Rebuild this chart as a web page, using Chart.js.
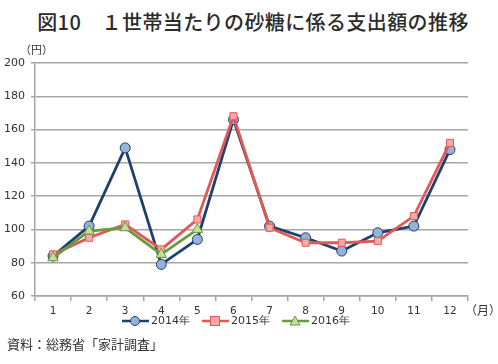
<!DOCTYPE html>
<html lang="ja">
<head>
  <meta charset="UTF-8" />
  <title>図10 1世帯当たりの砂糖に係る支出額の推移</title>
  <script src="https://cdn.jsdelivr.net/npm/chart.js"></script>
  <style>
    * { box-sizing: border-box; margin: 0; padding: 0; }
    body {
      width: 498px;
      height: 364px;
      background: #fff;
      position: relative;
      overflow: hidden;
      font-family: 'Noto Sans CJK JP', sans-serif;
      color: #333;
    }
    #title {
      position: absolute;
      top: 7px;
      left: 4px;
      width: 498px;
      text-align: center;
      font-size: 20px;
      font-weight: 500;
      letter-spacing: 0.4px;
      color: #2b2b2b;
    }
    #chartBox {
      position: absolute;
      left: 0;
      top: 0;
      width: 498px;
      height: 364px;
    }
    .unit {
      position: absolute;
      font-size: 11px;
      color: #333;
    }
    #unitY { left: 20px; top: 41px; }
    #unitX { left: 465px; top: 301px; font-size: 12px; }
    #legend {
      position: absolute;
      top: 313px;
      left: 122px;
      display: flex;
      gap: 12px;
      font-family: 'DejaVu Sans', sans-serif;
      font-size: 11px;
      color: #333;
    }
    #legend .item { display: flex; align-items: center; }
    #legend svg { margin-right: 2px; }
    #source {
      position: absolute;
      left: 7px;
      top: 334px;
      font-size: 13px;
      color: #333;
    }
  </style>
</head>
<body>
  <div id="title">図10　１世帯当たりの砂糖に係る支出額の推移</div>
  <div id="chartBox"><canvas id="sugarChart" width="498" height="364"></canvas></div>
  <div class="unit" id="unitY">（円）</div>
  <div class="unit" id="unitX">（月）</div>
  <div id="legend"></div>
  <div id="source">資料：総務省「家計調査」</div>

  <script>
    // data
    const months = ['1', '2', '3', '4', '5', '6', '7', '8', '9', '10', '11', '12'];
    const yen2014 = [84, 102, 149, 79, 94, 166, 102, 95, 87, 98, 102, 148];
    const yen2015 = [85, 95, 103, 88, 106, 168, 101, 92, 92, 93, 108, 152];
    const yen2016 = [83, 99, 101, 85, 100];
    const seriesNames = ['2014年', '2015年', '2016年'];

    const styles = [
      { line: '#1f3f6e', fill: '#95b3d7', point: 'circle' },
      { line: '#e0595a', fill: '#f7a9a8', point: 'rect' },
      { line: '#6a9a3a', fill: '#c6dca0', point: 'triangle' }
    ];

    const seriesData = [yen2014, yen2015, yen2016];
    const datasets = seriesData.map((d, i) => ({
      label: seriesNames[i],
      data: d,
      borderColor: styles[i].line,
      backgroundColor: styles[i].fill,
      borderWidth: 2.8,
      pointStyle: styles[i].point,
      pointRadius: styles[i].point === 'triangle' ? 6 : 5,
      pointBorderColor: styles[i].line,
      pointBorderWidth: 1,
      pointBackgroundColor: styles[i].fill,
      tension: 0,
      order: 2 - i
    }));

    const gridGray = '#a6a6a6';
    const ctx = document.getElementById('sugarChart').getContext('2d');
    const chart = new Chart(ctx, {
      type: 'line',
      data: { labels: months, datasets: datasets },
      options: {
        responsive: false,
        animation: false,
        layout: { padding: { left: 0, top: 63, right: 30, bottom: 0 } },
        plugins: {
          legend: { display: false },
          title: { display: false },
          tooltip: { enabled: false }
        },
        scales: {
          x: {
            offset: true,
            afterFit: s => { s.height = 68; },
            grid: {
              offset: true,
              drawOnChartArea: false,
              drawTicks: true,
              tickLength: 5,
              color: gridGray,
              lineWidth: 1.5
            },
            border: { color: gridGray, width: 1.5 },
            ticks: {
              padding: 4,
              color: '#333',
              font: { family: 'DejaVu Sans', size: 10.5 }
            }
          },
          y: {
            min: 60,
            max: 200,
            afterFit: s => { s.width = 35; },
            grid: {
              color: gridGray,
              lineWidth: 1.5,
              tickLength: 4
            },
            border: { color: gridGray, width: 1.5 },
            ticks: {
              stepSize: 20,
              padding: 6,
              color: '#333',
              font: { family: 'DejaVu Sans', size: 11 }
            }
          }
        }
      }
    });

    // legend: line with marker, like the spreadsheet original
    function markerSvg(st) {
      let m;
      if (st.point === 'circle') {
        m = `<circle cx="13" cy="6" r="4.5" fill="${st.fill}" stroke="${st.line}" stroke-width="1"/>`;
      } else if (st.point === 'rect') {
        m = `<rect x="8.5" y="1.5" width="9" height="9" fill="${st.fill}" stroke="${st.line}" stroke-width="1"/>`;
      } else {
        m = `<polygon points="13,1 18,10 8,10" fill="${st.fill}" stroke="${st.line}" stroke-width="1"/>`;
      }
      return `<svg width="27" height="12"><line x1="0" y1="6" x2="27" y2="6" stroke="${st.line}" stroke-width="2.5"/>${m}</svg>`;
    }
    document.getElementById('legend').innerHTML = seriesNames
      .map((n, i) => `<div class="item">${markerSvg(styles[i])}<span>${n}</span></div>`)
      .join('');
  </script>
</body>
</html>
